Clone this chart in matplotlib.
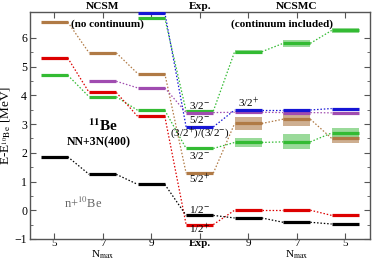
import matplotlib
matplotlib.use("Agg")
import matplotlib.pyplot as plt
import matplotlib.transforms as mtransforms

plt.rcParams['font.family'] = ['Liberation Serif', 'DejaVu Serif']
plt.rcParams['mathtext.fontset'] = 'stix'

# ---- data ----
col_labels = ["5", "7", "9", "Exp.", "9", "7", "5"]
col_x = [1, 2, 3, 4, 5, 6, 7]

black_E  = [1.86, 1.25, 0.90, -0.18, -0.27, -0.42, -0.48]
red_E    = [5.30, 4.10, 3.27, -0.50, 0.00, 0.00, -0.18]
greenA_E = [4.70, 3.95, 3.48, 2.15, 2.36, 2.38, 2.69]
brown_E  = [6.55, 5.48, 4.76, 1.29, 3.02, 3.17, 2.50]
purple_E = [None, 4.49, 4.26, 3.40, 3.41, 3.40, 3.39]
greenB_E = [None, None, 6.69, 3.45, 5.52, 5.81, 6.26]
blue_E   = [None, None, 6.88, 2.90, 3.49, 3.49, 3.54]

# NCSMC resonance widths (half-width of band), columns 5..7
greenA_w = [0, 0, 0, 0, 0.16, 0.26, 0.16]
brown_w  = [0, 0, 0, 0, 0.23, 0.23, 0.15]
greenB_w = [0, 0, 0, 0, 0.07, 0.13, 0.10]

exp_labels = ["3/2$^{-}$", "5/2$^{-}$", "(3/2$^{+}$)/(3/2$^{-}$)", "3/2$^{-}$",
              "5/2$^{+}$", "1/2$^{-}$", "1/2$^{+}$"]
exp_label_y = [3.66, 3.17, 2.68, 1.92, 1.08, 0.03, -0.66]

# ---- style ----
c_black = "#000000"
c_red = "#dd0000"
c_green = "#33bb33"
c_brown = "#b07a45"
c_purple = "#a04cb0"
c_blue = "#1515d5"
band_green = "#8fd68f"
band_brown = "#c9a685"

half = 0.28

fig = plt.figure(figsize=(3.74, 2.62), dpi=100)
ax = fig.add_axes([0.080, 0.088, 0.908, 0.866])

series = [
    (brown_E, c_brown, brown_w, band_brown),
    (greenA_E, c_green, greenA_w, band_green),
    (greenB_E, c_green, greenB_w, band_green),
    (purple_E, c_purple, None, None),
    (blue_E, c_blue, None, None),
    (red_E, c_red, None, None),
    (black_E, c_black, None, None),
]

# bands
for E, c, w, bc in series:
    if w is None:
        continue
    for x, e, ww in zip(col_x, E, w):
        if e is not None and ww > 0:
            ax.bar(x, 2 * ww, bottom=e - ww, width=2 * half, color=bc,
                   edgecolor='none', alpha=0.9, zorder=1)

# connecting lines
for E, c, w, bc in series:
    for i in range(len(col_x) - 1):
        if E[i] is None or E[i + 1] is None:
            continue
        ax.plot([col_x[i] + half, col_x[i + 1] - half], [E[i], E[i + 1]],
                linestyle=(0, (1.2, 1.5)), color=c, lw=0.9, zorder=2)

# levels
for E, c, w, bc in series:
    for x, e in zip(col_x, E):
        if e is not None:
            ax.hlines(e, x - half, x + half, colors=c, lw=2.3, zorder=3)

ax.set_xlim(0.5, 7.5)
ax.set_ylim(-1, 6.9)
ax.set_xticks(col_x)
ax.set_xticklabels(col_labels, fontsize=8)
ax.get_xticklabels()[3].set_fontweight('bold')
ax.set_yticks(range(-1, 7))
ax.set_yticks([v + 0.5 for v in range(-1, 6)], minor=True)
ax.tick_params(axis='both', which='both', direction='in', top=True, right=True,
               color='#555555')
ax.tick_params(axis='y', which='major', pad=2, labelsize=8.5)
ax.tick_params(axis='x', which='major', pad=0, labelsize=8)
ax.tick_params(axis='both', which='major', length=4, width=0.8)
ax.tick_params(axis='both', which='minor', length=2, width=0.6)
ax.tick_params(axis='x', which='minor', bottom=False, top=False)
for sp in ax.spines.values():
    sp.set_color('#555555')
    sp.set_linewidth(1.0)

ax.set_ylabel(r"E-E$_{^{10}\mathrm{Be}}$ [MeV]", fontsize=9.5, labelpad=1)

trans = mtransforms.blended_transform_factory(ax.transData, ax.transAxes)
for x, t in [(2, "NCSM"), (4, "Exp."), (6, "NCSMC")]:
    ax.text(x, 1.012, t, transform=trans, ha='center', va='baseline',
            fontsize=8.2, fontweight='bold')
transb = mtransforms.blended_transform_factory(ax.transData, fig.transFigure)
for x in (2, 6):
    ax.text(x, 0.004, r"N$_{\mathrm{max}}$", transform=transb, ha='center',
            va='bottom', fontsize=8)

ax.text(2.1, 6.48, "(no continuum)", ha='center', va='center', fontsize=8,
        fontweight='bold')
ax.text(5.7, 6.48, "(continuum included)", ha='center', va='center',
        fontsize=8, fontweight='bold')
ax.text(2.0, 2.95, r"$^{\mathbf{11}}$Be", ha='center', va='center',
        fontsize=11, fontweight='bold')
ax.text(1.92, 2.37, "NN+3N(400)", ha='center', va='center', fontsize=8.5,
        fontweight='bold')
ax.text(1.6, 0.24, r"n+$^{10}$Be", ha='center', va='center', fontsize=9,
        color='#666666')

for t, y in zip(exp_labels, exp_label_y):
    ax.text(4, y, t, ha='center', va='center', fontsize=8)
ax.text(5, 3.73, "3/2$^{+}$", ha='center', va='center', fontsize=8)

fig.savefig("out.png", dpi=100)
